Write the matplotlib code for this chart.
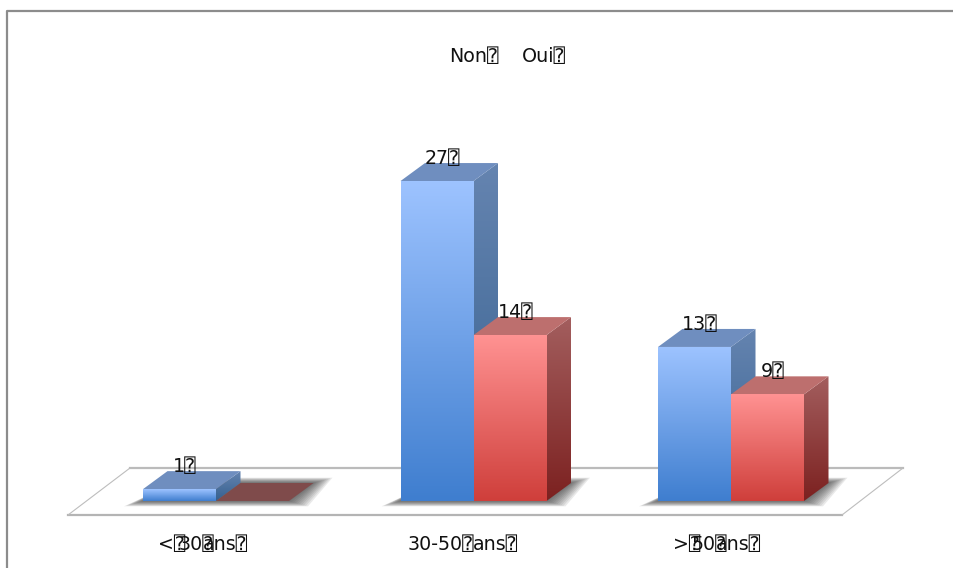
import numpy as np
import matplotlib
matplotlib.use('Agg')
import matplotlib.pyplot as plt
from matplotlib.colors import LinearSegmentedColormap
from matplotlib.lines import Line2D
from matplotlib.patches import Polygon

plt.rcParams['font.family'] = ['DejaVu Sans', 'DejaVu Sans Mono']

BOX = '\u2370'
FS = 13.7

categories = ['<30 ans', '30-50 ans', '>50 ans']
non = [1, 27, 13]
oui = [0, 14, 9]
legend_names = ['Non', 'Oui']
# each label was broken into overlapping runs in the source
label_runs = [['<' + BOX, '30' + BOX, 'ans' + BOX],
              ['30-50' + BOX, 'ans' + BOX],
              ['>' + BOX, '50' + BOX, 'ans' + BOX]]
label_run_px = [[158, 179, 203], [408, 473], [673, 692, 716]]

# scale of the picture: one category is 257 px wide, one unit is 11.85 px high
W, H = 954, 568
PX_X = 257.5
PX_Y = 11.85
X0, Y0 = 216, 501


def xp(p):
    return (p - X0) / PX_X


def yp(p):
    return (Y0 - p) / PX_Y


BAR = 73 / PX_X
DX = 24.5 / PX_X
DY = 18 / PX_Y

fig = plt.figure(figsize=(W / 100, H / 100), dpi=100)
ax = fig.add_axes([0, 0, 1, 1])
ax.set_xlim(xp(0), xp(W))
ax.set_ylim(yp(H), yp(0))
ax.axis('off')
ax.set_autoscale_on(False)

blue = {'front': ('#9DC3FF', '#3F7ECF'), 'side': ('#6584B0', '#35608F'), 'top': '#6F8EBF'}
red = {'front': ('#FF9292', '#CF3F3B'), 'side': ('#A35E5E', '#7C2120'), 'top': '#BD6F6E'}


def grad_face(pts, colors, z):
    # vertical gradient clipped to a polygon
    pts = np.array(pts)
    cmap = LinearSegmentedColormap.from_list('f', colors)
    g = np.linspace(0, 1, 128).reshape(-1, 1)
    ext = [pts[:, 0].min(), pts[:, 0].max(), pts[:, 1].min(), pts[:, 1].max()]
    im = ax.imshow(g, cmap=cmap, extent=ext, origin='upper', aspect='auto', zorder=z)
    poly = Polygon(pts, closed=True, transform=ax.transData, fc='none', ec='none')
    ax.add_patch(poly)
    im.set_clip_path(poly)


def bar3d(x, v, style, z):
    if v > 0:
        grad_face([(x, 0), (x + BAR, 0), (x + BAR, v), (x, v)], style['front'], z + 0.2)
        grad_face([(x + BAR, 0), (x + BAR + DX, DY), (x + BAR + DX, v + DY), (x + BAR, v)],
                  style['side'], z + 0.1)
        top = style['top']
    else:
        top = '#7F4B4B'
    ax.add_patch(Polygon([(x, v), (x + BAR, v), (x + BAR + DX, v + DY), (x + DX, v + DY)],
                         fc=top, ec='none', zorder=z + 0.1))


# floor
floor = [(xp(68), yp(515)), (xp(842), yp(515)), (xp(903), yp(468)), (xp(130), yp(468))]
ax.add_patch(Polygon(floor, fc='white', ec='none', zorder=1))
ax.plot([xp(68), xp(842)], [yp(515)] * 2, color='#B4B4B4', lw=1.6, zorder=1.5)
ax.plot([xp(130), xp(903)], [yp(468)] * 2, color='#BBBBBB', lw=1.6, zorder=1.5)
ax.plot([xp(68), xp(130)], [yp(515), yp(468)], color='#BDBDBD', lw=0.8, zorder=1.5)
ax.plot([xp(842), xp(903)], [yp(515), yp(468)], color='#BDBDBD', lw=0.8, zorder=1.5)

# soft shadow below each group
for i in range(3):
    left = i - BAR
    right = i + BAR
    for s in np.linspace(19, 1, 10):
        sx, sy = s / PX_X, s * 0.28 / PX_Y
        ax.add_patch(Polygon([(left - sx, -sy), (right + sx, -sy),
                              (right + DX + sx, DY + sy), (left + DX + sx, DY + sy)],
                             fc='#303030', ec='none', alpha=0.1, zorder=2))

for i in range(3):
    bar3d(i - BAR, non[i], blue, 3)
    bar3d(i, oui[i], red, 4)

# value labels, centred a little left of the bar's middle
for i in range(3):
    for x, v in ((i - BAR, non[i]), (i, oui[i])):
        if v > 0:
            ax.annotate(str(v) + BOX, (x + (BAR + DX) / 2, v), xytext=(-5, 16.5),
                        textcoords='offset points', ha='center', va='center',
                        fontsize=FS, color='#111111', zorder=6)

# legend as plain text at the top
ax.text(xp(449), yp(57), legend_names[0] + BOX, fontsize=FS, va='center', color='#111111')
ax.text(xp(522), yp(57), legend_names[1] + BOX, fontsize=FS, va='center', color='#111111')

for runs, pos in zip(label_runs, label_run_px):
    for r, p in zip(runs, pos):
        ax.text(xp(p), yp(545), r, fontsize=FS, va='center', color='#111111')

# frame of the slide: only the top and left edges are in the crop
fig.add_artist(Line2D([7.5 / W, 7.5 / W, 1], [0, 1 - 10.5 / H, 1 - 10.5 / H],
                      color='#8C8C8C', lw=1.6, transform=fig.transFigure))

fig.savefig('out.png', dpi=100)
